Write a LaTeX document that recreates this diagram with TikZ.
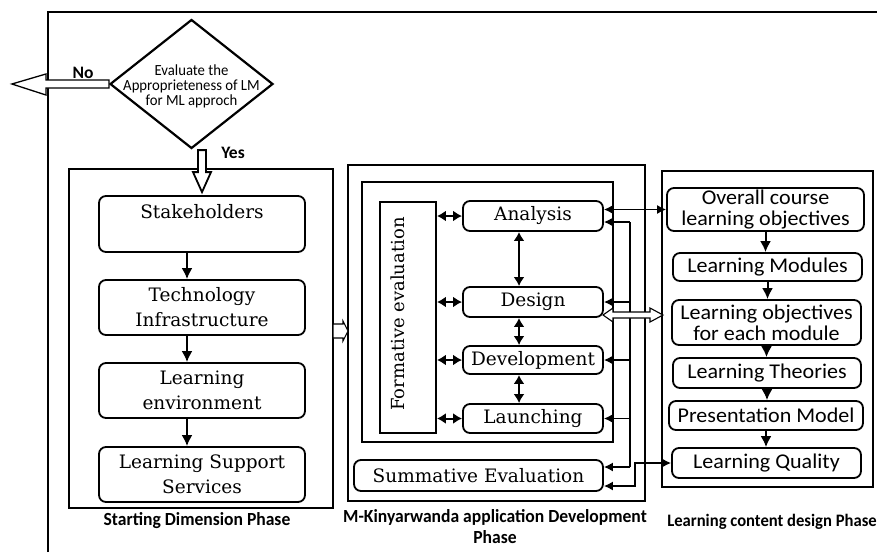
\documentclass[tikz,border=0pt]{standalone}
\usepackage{fontspec}
\usetikzlibrary{shapes.geometric,arrows.meta,calc}
\newfontfamily\dvs{DejaVu Serif}
\newfontfamily\carl{Carlito}
\newfontfamily\carlw[FakeStretch=1.05]{Carlito}
\newfontfamily\carlb[FakeStretch=0.95]{Carlito}
\newfontfamily\carlc[FakeStretch=0.95]{Carlito}
\begin{document}
\begin{tikzpicture}[x=1pt,y=-1pt,
  sbox/.style={draw, rounded corners=7pt, line width=1.8pt, inner sep=0pt, align=center, font=\dvs\fontsize{18.5}{25}\selectfont},
  cbox/.style={draw, rounded corners=7pt, line width=1.8pt, inner sep=0pt, align=center, font=\carlw\fontsize{21}{21}\selectfont},
  frm/.style={draw, line width=1.8pt, inner sep=0pt},
  thinfrm/.style={draw, line width=1.2pt, inner sep=0pt},
  arr/.style={line width=2pt, -{Latex[length=11pt,width=11pt]}},
  darr/.style={line width=2pt, {Latex[length=9pt,width=11pt]}-{Latex[length=9pt,width=11pt]}},
  tarr/.style={line width=1.4pt, -{Latex[length=9pt,width=9pt]}},
  tdarr/.style={line width=1.4pt, {Latex[length=9pt,width=9pt]}-{Latex[length=9pt,width=9pt]}},
  lbl/.style={font=\carlb\bfseries\fontsize{18.5}{21}\selectfont, align=center},
  openarr/.style={draw, fill=white, line width=1.3pt, line join=miter}
]
\useasboundingbox (0,0) rectangle (877,552);

% outer frame
\coordinate (fb) at (48,552);
\coordinate (fc) at (48,12);
\coordinate (fr) at (877,12);
\draw[line width=2pt] (fb) -- (fc) -- (fr);

% decision diamond
\node[diamond, draw, line width=2.2pt, minimum width=163pt, minimum height=129pt, inner sep=0pt,
  label={[font=\carlc\fontsize{15.5}{15}\selectfont, align=center, yshift=-2pt]center:{Evaluate the\\Approprieteness of LM\\for ML approch}}]
  (dia) at (191.5,84) {};
\node[font=\carl\bfseries\fontsize{17.5}{17}\selectfont] (no) at (83,73) {No};
\node[font=\carl\bfseries\fontsize{17.5}{17}\selectfont] (yes) at (233,153) {Yes};

% Starting dimension phase
\node[frm, minimum width=264pt, minimum height=339pt] (sdf) at (201,338.5) {};
\node[sbox, minimum width=206pt, minimum height=56pt] (stake) at (202,224) {Stakeholders\\\mbox{}};
\node[sbox, minimum width=206pt, minimum height=55pt] (tech) at (202,307.5) {Technology\\Infrastructure};
\node[sbox, minimum width=206pt, minimum height=55pt] (env) at (202,390.5) {Learning\\environment};
\node[sbox, minimum width=206pt, minimum height=55pt] (lss) at (202,474.5) {Learning Support\\Services};
\draw[arr] ([xshift=-15pt]stake.south) -- ([xshift=-15pt]tech.north);
\draw[arr] ([xshift=-15pt]tech.south) -- ([xshift=-15pt]env.north);
\draw[arr] ([xshift=-15pt]env.south) -- ([xshift=-15pt]lss.north);
\node[lbl] (sdl) at (197,521) {Starting Dimension Phase};

% M-Kinyarwanda application development phase
\node[thinfrm, minimum width=297pt, minimum height=336pt] (mf) at (496.5,333) {};
\node[frm, line width=2.3pt, minimum width=251pt, minimum height=260pt] (inf) at (487.5,312) {};
\node[frm, minimum width=56pt, minimum height=231pt] (form) at (408,317.5) {};
\node[rotate=90, font=\dvs\fontsize{18}{18}\selectfont] (formt) at (398,314) {Formative evaluation};
\node[sbox, minimum width=140pt, minimum height=30pt] (analysis) at (533,216) {Analysis};
\node[sbox, minimum width=140pt, minimum height=30pt] (design) at (533,302) {Design};
\node[sbox, minimum width=140pt, minimum height=28pt] (dev) at (533,360) {Development};
\node[sbox, minimum width=140pt, minimum height=29pt] (launch) at (533,418.5) {Launching};
\node[sbox, minimum width=249pt, minimum height=31pt] (summ) at (478.5,475.5) {Summative Evaluation};
\draw[darr] (form.east |- analysis) -- (analysis.west);
\draw[darr] (form.east |- design) -- (design.west);
\draw[darr] (form.east |- dev) -- (dev.west);
\draw[darr] (form.east |- launch) -- (launch.west);
\draw[darr] ([xshift=-14pt]analysis.south) -- ([xshift=-14pt]design.north);
\draw[darr] ([xshift=-14pt]design.south) -- ([xshift=-14pt]dev.north);
\draw[darr] ([xshift=-14pt]dev.south) -- ([xshift=-14pt]launch.north);
\node[lbl] (mfl) at (495,527) {M-Kinyarwanda application Development\\Phase};

% Learning content design phase
\node[thinfrm, minimum width=211pt, minimum height=316pt] (rf) at (767.5,329) {};
\node[cbox, minimum width=197pt, minimum height=43pt] (b1) at (765.5,209.5) {Overall course\\learning objectives};
\node[cbox, minimum width=189pt, minimum height=28pt] (b2) at (767.5,267) {Learning Modules};
\node[cbox, minimum width=189pt, minimum height=45pt] (b3) at (766.5,322.5) {Learning objectives\\for each module};
\node[cbox, minimum width=188pt, minimum height=30pt] (b4) at (767,373) {Learning Theories};
\node[cbox, minimum width=194pt, minimum height=29pt] (b5) at (766,415.5) {Presentation Model};
\node[cbox, minimum width=189pt, minimum height=30pt] (b6) at (766.5,463) {Learning Quality};
\draw[arr] (b1.south) -- (b1.south |- b2.north);
\draw[arr] (b2.south) -- (b2.south |- b3.north);
\draw[arr] (b3.south) -- (b3.south |- b4.north);
\draw[arr] (b4.south) -- (b4.south |- b5.north);
\draw[arr] (b5.south) -- (b5.south |- b6.north);
\node[lbl, font=\carlb\bfseries\fontsize{17.5}{21}\selectfont] (rfl) at (772,522) {Learning content design Phase};

% connectors between phases
\draw[tdarr] (b1.west) -- (b1.west -| analysis.east);
\coordinate (busT) at (630,222);
\coordinate (busB) at (630,467);
\draw[line width=1.3pt] (busT) -- (busB);
\draw[tarr] (busT) -- (busT -| analysis.east);
\draw[tarr] (design.east -| busT) -- (design.east);
\draw[tarr] (dev.east -| busT) -- (dev.east);
\draw[tarr] (launch.east -| busT) -- (launch.east);
\draw[tarr] (busB) -- (busB -| summ.east);
\coordinate (sq) at (635,486);
\draw[tdarr] (b6.west) -| (sq) -- (sq -| summ.east);

% open block arrows
\draw[openarr] (dia.west) ++(0,-4) -- ++(-63,0) -- ++(0,-6) -- ++(-34,10) -- ++(34,11) -- ++(0,-7) -- ++(63,0) -- cycle;
\draw[openarr, line width=1.8pt] (stake.north) ++(0,-3) -- ++(-9,-20) -- ++(5,0) -- ++(0,-22) -- ++(8,0) -- ++(0,22) -- ++(5,0) -- cycle;
\coordinate (sa) at (333,331);
\draw[openarr, line width=1.1pt] (sa) ++(0,-7) -- ++(10,0) -- ++(0,-3) -- ++(5,10) -- ++(-5,10) -- ++(0,-3) -- ++(-10,0) -- cycle;
\coordinate (da) at (603,315);
\draw[openarr, line width=1.1pt] (da) -- ++(10,-7) -- ++(0,4) -- ++(37,0) -- ++(0,-4) -- ++(13,7) -- ++(-13,7) -- ++(0,-4) -- ++(-37,0) -- ++(0,4) -- cycle;
\end{tikzpicture}
\end{document}
